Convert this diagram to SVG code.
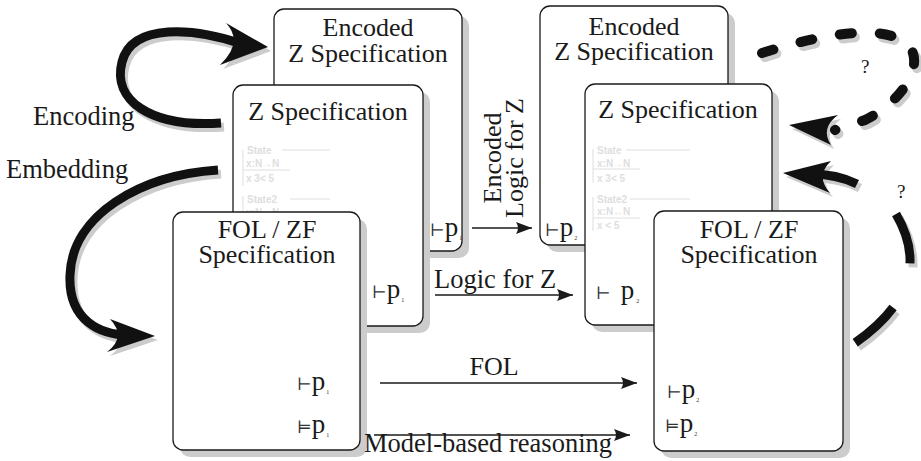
<svg xmlns="http://www.w3.org/2000/svg" xmlns:xlink="http://www.w3.org/1999/xlink" width="921" height="461" viewBox="0 0 921 461">
  <style>
    .box { fill: #ffffff; stroke: #1a1a1a; stroke-width: 1.3; }
    .shadow { fill: #cccccc; }
    .title { font-family: 'Liberation Serif', 'DejaVu Serif', serif; font-size: 26px; fill: #1a1a1a; text-anchor: middle; }
    .lbl { font-family: 'Liberation Serif', 'DejaVu Serif', serif; font-size: 26.5px; fill: #1a1a1a; }
    .q { font-family: 'Liberation Serif', 'DejaVu Serif', serif; font-size: 19px; fill: #1a1a1a; }
    .sym { font-family: 'DejaVu Serif', 'DejaVu Sans', sans-serif; font-size: 17px; fill: #333333; }
    .pp { font-family: 'Liberation Serif', 'DejaVu Serif', serif; font-size: 27px; fill: #1a1a1a; }
    .sub { font-family: 'Liberation Serif', serif; font-size: 6px; fill: #333333; }
    .schema { font-family: 'Liberation Sans', 'DejaVu Sans', sans-serif; font-weight: bold; font-size: 10px; fill: #dedede; }
    .schline { stroke: #dedede; stroke-width: 1; fill: none; }
    .thin { stroke: #1a1a1a; stroke-width: 1.3; fill: none; marker-end: url(#tip); }
    .shaft { fill: none; stroke: currentColor; stroke-width: 9; }
    .head { fill: currentColor; stroke: none; }
    .dots { fill: none; stroke: currentColor; stroke-width: 10; stroke-linecap: round; stroke-dasharray: 12 28; }
    .dash { fill: none; stroke: currentColor; stroke-width: 9; stroke-dasharray: 52 48; }
  </style>
  <defs>
    <marker id="tip" markerUnits="userSpaceOnUse" markerWidth="17" markerHeight="12" refX="16" refY="6" orient="auto">
      <path d="M0,0 L16,6 L0,12 Q4,6 0,0 Z" fill="#1a1a1a"/>
    </marker>
    <!-- thick curved arrows, drawn twice: grey offset copy underneath, black on top -->
    <g id="encodingArrow">
      <path class="shaft" d="M 221 123 C 150 128, 112 100, 122 62 C 132 22, 195 28, 242 44"/>
      <path class="head" d="M 268 47 L 226 23 Q 244 42 220 65 Z"/>
    </g>
    <g id="embeddingArrow">
      <path class="shaft" d="M 218 170 C 140 175, 72 215, 70 275 C 68 320, 100 336, 132 335"/>
      <path class="head" d="M 155 336 L 110 319 Q 127 337 107 352 Z"/>
    </g>
    <g id="backDotted">
      <path class="dots" d="M 762 53 C 810 38, 875 22, 905 42 C 928 60, 905 100, 865 120 L 835 130"/>
      <path class="head" d="M 789 125 L 838 115 Q 820 128 831 145 Z"/>
    </g>
    <g id="backSolid">
      <path class="shaft" d="M 857 184 C 845 178, 830 174, 810 174"/>
      <path class="head" d="M 783 173 L 831 161 Q 815 176 830 193 Z"/>
    </g>
    <g id="backDashed">
      <path class="dash" d="M 896 214 C 920 255, 918 300, 852 345"/>
    </g>
  </defs>

  <!-- left stack -->
  <g id="encoded-z-left">
    <rect class="shadow" x="281" y="16" width="188" height="242" rx="10"/>
    <rect class="box" x="274" y="9" width="188" height="242" rx="10"/>
    <text class="title" x="368" y="36">Encoded</text>
    <text class="title" x="368" y="62">Z Specification</text>
    <text x="430" y="236"><tspan class="sym">⊢</tspan><tspan class="pp">p</tspan><tspan class="sub" dx="1" dy="4">1</tspan></text>
  </g>

  <g id="z-spec-left">
    <rect class="shadow" x="240" y="92" width="190" height="241" rx="10"/>
    <rect class="box" x="233" y="85" width="190" height="241" rx="10"/>
    <text class="title" x="328" y="120">Z Specification</text>
    <g id="schema-left">
      <path class="schline" d="M243 150 V186 M282 150 H330 M243 170 H290 M243 196 V215 M290 199 H330"/>
      <text class="schema" x="247" y="154">State</text>
      <text class="schema" x="246" y="167">x:N→N</text>
      <text class="schema" x="246" y="182">x 3&lt; 5</text>
      <text class="schema" x="247" y="203">State2</text>
      <text class="schema" x="246" y="216">x:N↔N</text>
    </g>
    <text x="372" y="298"><tspan class="sym">⊢</tspan><tspan class="pp">p</tspan><tspan class="sub" dx="1" dy="4">1</tspan></text>
  </g>

  <g id="fol-zf-left">
    <rect class="shadow" x="180" y="219" width="187" height="238" rx="10"/>
    <rect class="box" x="173" y="212" width="187" height="238" rx="10"/>
    <text class="title" x="267" y="238">FOL / ZF</text>
    <text class="title" x="267" y="263">Specification</text>
    <text x="297" y="390"><tspan class="sym">⊢</tspan><tspan class="pp">p</tspan><tspan class="sub" dx="1" dy="4">1</tspan></text>
    <text x="297" y="433"><tspan class="sym">⊨</tspan><tspan class="pp">p</tspan><tspan class="sub" dx="1" dy="4">1</tspan></text>
  </g>

  <!-- right stack -->
  <g id="encoded-z-right">
    <rect class="shadow" x="547" y="13" width="188" height="239" rx="10"/>
    <rect class="box" x="540" y="6" width="188" height="239" rx="10"/>
    <text class="title" x="634" y="35">Encoded</text>
    <text class="title" x="634" y="60">Z Specification</text>
    <text x="545" y="236"><tspan class="sym">⊢</tspan><tspan class="pp">p</tspan><tspan class="sub" dx="1" dy="4">2</tspan></text>
  </g>

  <g id="z-spec-right">
    <rect class="shadow" x="592" y="91" width="187" height="241" rx="10"/>
    <rect class="box" x="585" y="84" width="187" height="241" rx="10"/>
    <text class="title" x="678" y="118">Z Specification</text>
    <g id="schema-right">
      <path class="schline" d="M593 149 V183 M626 150 H690 M593 169 H640 M593 197 V231 M630 199 H690 M593 218 H640"/>
      <text class="schema" x="597" y="154">State</text>
      <text class="schema" x="597" y="167">x:N→N</text>
      <text class="schema" x="597" y="182">x 3&lt; 5</text>
      <text class="schema" x="597" y="203">State2</text>
      <text class="schema" x="597" y="215">x:N↔N</text>
      <text class="schema" x="597" y="229">x &lt; 5</text>
    </g>
    <text x="596" y="299"><tspan class="sym">⊢</tspan><tspan class="pp" dx="10">p</tspan><tspan class="sub" dx="2" dy="4">2</tspan></text>
  </g>

  <g id="fol-zf-right">
    <rect class="shadow" x="661" y="218" width="189" height="240" rx="10"/>
    <rect class="box" x="654" y="211" width="189" height="240" rx="10"/>
    <text class="title" x="749" y="238">FOL / ZF</text>
    <text class="title" x="749" y="263">Specification</text>
    <text x="667" y="398"><tspan class="sym">⊢</tspan><tspan class="pp">p</tspan><tspan class="sub" dx="1" dy="4">2</tspan></text>
    <text x="665" y="432"><tspan class="sym">⊨</tspan><tspan class="pp">p</tspan><tspan class="sub" dx="1" dy="4">2</tspan></text>
  </g>

  <!-- connectors -->
  <g id="connectors">
    <use xlink:href="#encodingArrow" color="#cccccc" transform="translate(3,4)"/>
    <use xlink:href="#encodingArrow" color="#111111"/>
    <use xlink:href="#embeddingArrow" color="#cccccc" transform="translate(3,4)"/>
    <use xlink:href="#embeddingArrow" color="#111111"/>
    <use xlink:href="#backDotted" color="#cccccc" transform="translate(3,4)"/>
    <use xlink:href="#backDotted" color="#111111"/>
    <use xlink:href="#backSolid" color="#cccccc" transform="translate(3,4)"/>
    <use xlink:href="#backSolid" color="#111111"/>
    <use xlink:href="#backDashed" color="#cccccc" transform="translate(3,4)"/>
    <use xlink:href="#backDashed" color="#111111"/>

    <path class="thin" d="M 472 228 H 532"/>
    <path class="thin" d="M 435 295 H 573"/>
    <path class="thin" d="M 380 383 H 637"/>
    <path class="thin" d="M 374 435 H 630"/>
  </g>

  <!-- connector labels -->
  <g id="labels">
    <text class="lbl" x="33" y="125">Encoding</text>
    <text class="lbl" x="6" y="178">Embedding</text>
    <text class="title" transform="translate(501,158) rotate(-90)">Encoded</text>
    <text class="title" transform="translate(523,158) rotate(-90)">Logic for Z</text>
    <text class="lbl" x="434" y="288">Logic for Z</text>
    <text class="title" x="494" y="375">FOL</text>
    <text class="lbl" x="364" y="452">Model-based reasoning</text>
    <text class="q" x="861" y="73">?</text>
    <text class="q" x="897" y="198">?</text>
  </g>
</svg>
